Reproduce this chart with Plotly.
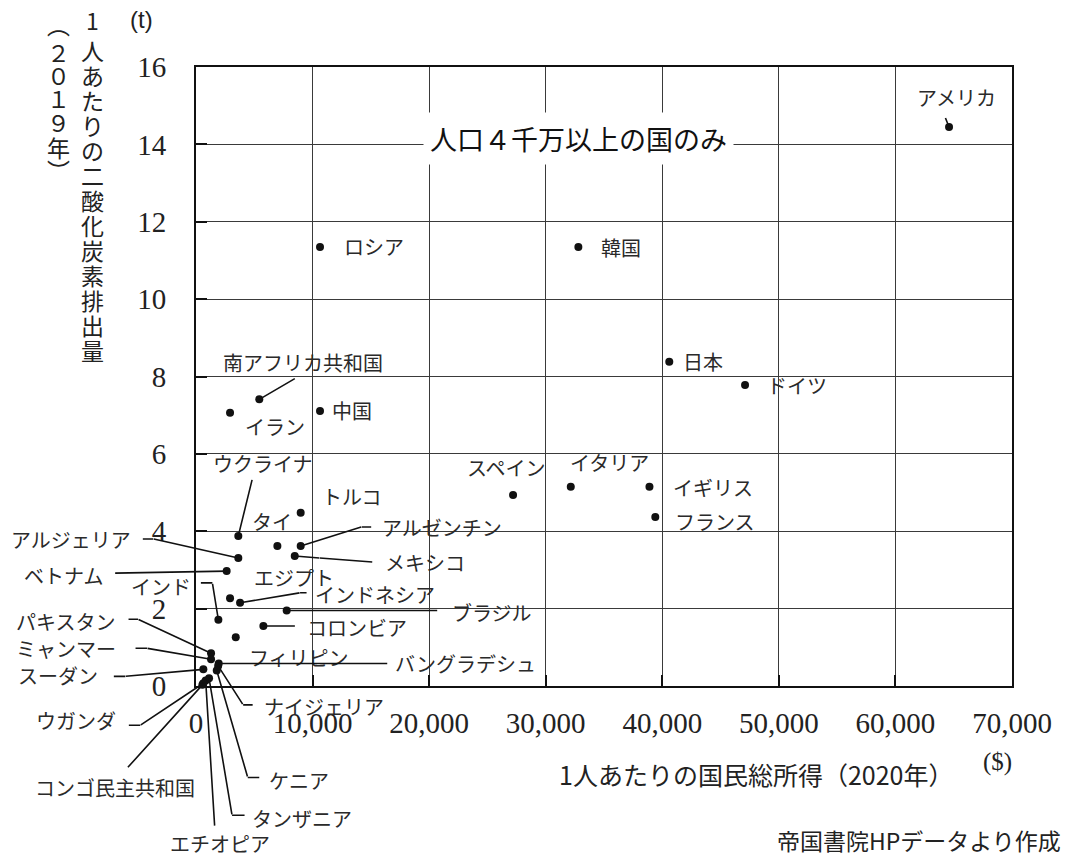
import plotly.graph_objects as go

# ---------------- data ----------------
countries = ["アメリカ", "ロシア", "韓国", "日本", "ドイツ", "南アフリカ共和国", "イラン", "中国",
             "スペイン", "イタリア", "イギリス", "フランス", "トルコ", "ウクライナ", "タイ",
             "アルゼンチン", "メキシコ", "アルジェリア", "ベトナム", "エジプト", "インドネシア",
             "ブラジル", "インド", "コロンビア", "フィリピン", "パキスタン", "ミャンマー", "スーダン",
             "バングラデシュ", "ナイジェリア", "ケニア", "タンザニア", "エチオピア",
             "コンゴ民主共和国", "ウガンダ"]
gni_2020 = [64600, 10640, 32800, 40600, 47100, 5430, 2920, 10640,
            27200, 32150, 38900, 39400, 8980, 3630, 6980,
            8980, 8470, 3630, 2630, 2920, 3780,
            7780, 1920, 5780, 3410, 1290, 1290, 630,
            1950, 1900, 1780, 1120, 830,
            550, 630]
co2_2019 = [14.45, 11.35, 11.35, 8.38, 7.78, 7.41, 7.06, 7.11,
            4.94, 5.15, 5.15, 4.37, 4.48, 3.88, 3.62,
            3.62, 3.36, 3.31, 2.97, 2.27, 2.15,
            1.95, 1.71, 1.55, 1.26, 0.845, 0.69, 0.43,
            0.58, 0.52, 0.40, 0.20, 0.14,
            0.03, 0.07]
x_ticks = [0, 10000, 20000, 30000, 40000, 50000, 60000, 70000]
y_ticks = [0, 2, 4, 6, 8, 10, 12, 14, 16]

# ---------------- layout of labels (pixel offsets from each dot) ----------------
# (dx, dy, xanchor) : dy positive = downwards on screen
label_pos = {
    "アメリカ": (7, -29, "center"), "ロシア": (22, 0, "left"), "韓国": (21, 1, "left"),
    "日本": (12, 0, "left"), "ドイツ": (20, 0, "left"), "南アフリカ共和国": (44, -37, "center"),
    "イラン": (13, 14, "left"), "中国": (10, 0, "left"), "スペイン": (-7, -27, "center"),
    "イタリア": (39, -24, "center"), "イギリス": (22, 1, "left"), "フランス": (18, 5, "left"),
    "トルコ": (19, -16, "left"), "ウクライナ": (25, -72, "center"), "タイ": (-5, -24, "center"),
    "アルゼンチン": (79, -18, "left"), "メキシコ": (88, 6, "left"), "アルジェリア": (-105, -18, "right"),
    "ベトナム": (-122, 4, "right"), "エジプト": (22, -21, "left"), "インドネシア": (73, -8, "left"),
    "ブラジル": (163, 2, "left"), "インド": (-25, -33, "right"), "コロンビア": (42, 1, "left"),
    "フィリピン": (11, 20, "left"), "パキスタン": (-94, -32, "right"), "ミャンマー": (-93, -11, "right"),
    "スーダン": (-103, 6, "right"), "バングラデシュ": (174, 0, "left"), "ナイジェリア": (44, 41, "left"),
    "ケニア": (50, 110, "left"), "タンザニア": (41, 140, "left"), "エチオピア": (14, 163, "center"),
    "コンゴ民主共和国": (-87, 103, "center"), "ウガンダ": (-85, 37, "right"),
}
# leader line vertices (pixel offsets from the dot), the line starts at the dot
leaders = {
    "アメリカ": [(-4, -10)], "南アフリカ共和国": [(36, -21)], "ウクライナ": [(14, -57)],
    "アルゼンチン": [(61, -19), (71, -19)], "メキシコ": [(25, 2), (78, 6)],
    "アルジェリア": [(-85, -19), (-96, -19)], "ベトナム": [(-112, 2)],
    "インドネシア": [(60, -10), (67, -10)], "ブラジル": [(151, 0)],
    "インド": [(-6, -37), (-18, -37)], "コロンビア": [(32, 0)],
    "パキスタン": [(-73, -34), (-83, -34)], "ミャンマー": [(-64, -11), (-76, -11)],
    "スーダン": [(-78, 7), (-90, 7)], "バングラデシュ": [(169, 0)],
    "ナイジェリア": [(25, 39), (35, 39)], "ケニア": [(31, 107), (43, 107)],
    "タンザニア": [(23, 137), (36, 137)], "エチオピア": [(9, 146)],
    "コンゴ民主共和国": [(-75, 83)], "ウガンダ": [(-63, 42), (-75, 42)],
}

W, H = 1067, 858
ML, MR, MT, MB = 196, 55, 67, 172
PW, PH = W - ML - MR, H - MT - MB


def px2paper(px, py):
    return (px - ML) / PW, (H - MB - py) / PH


JP = "Noto Sans CJK JP"
SERIF = "Liberation Serif"

fig = go.Figure()
fig.add_trace(go.Scatter(x=gni_2020, y=co2_2019, mode="markers", text=countries,
                         marker=dict(size=8, color="#111111"), cliponaxis=False,
                         hovertemplate="%{text}<br>%{x:,}$<br>%{y}t<extra></extra>"))

annotations = []
for name, gx, gy in zip(countries, gni_2020, co2_2019):
    dx, dy, anc = label_pos[name]
    annotations.append(dict(x=gx, y=gy, xref="x", yref="y", text=name, showarrow=False,
                            xshift=dx, yshift=-dy, xanchor=anc, yanchor="middle",
                            font=dict(family=JP, size=20, color="#2a2a2a")))
    pts = [(0, 0)] + leaders.get(name, [])
    for (ax0, ay0), (ax1, ay1) in zip(pts[:-1], pts[1:]):
        annotations.append(dict(x=gx, y=gy, xref="x", yref="y", text=" ", showarrow=True,
                                xshift=ax0, yshift=-ay0, ax=ax1 - ax0, ay=ay1 - ay0,
                                arrowhead=0, arrowwidth=1.6, arrowcolor="#111111",
                                standoff=0, startstandoff=0, borderpad=0,
                                font=dict(size=1)))

# title box
tx, ty = px2paper(578, 112)
annotations.append(dict(x=tx, y=ty, xref="paper", yref="paper", text="人口４千万以上の国のみ",
                        showarrow=False, bgcolor="white", borderpad=6,
                        font=dict(family=JP, size=27, color="#111111")))

# vertical y-axis title
col1 = ["1", "人", "あ", "た", "り", "の", "二", "酸", "化", "炭", "素", "排", "出", "量"]
for i, ch in enumerate(col1):
    cy = 20 if i == 0 else 50 + 25 * (i - 1)
    px_, py_ = px2paper(92, cy)
    annotations.append(dict(x=px_, y=py_, xref="paper", yref="paper", text=ch, showarrow=False,
                            xanchor="center", yanchor="middle",
                            font=dict(family=JP, size=23, color="#222222")))
col2 = [("︵", 24), ("２", 52), ("０", 75), ("１", 98), ("９", 122), ("年", 147), ("︶", 170)]
for ch, cy in col2:
    px_, py_ = px2paper(58, cy)
    annotations.append(dict(x=px_, y=py_, xref="paper", yref="paper", text=ch, showarrow=False,
                            xanchor="center", yanchor="middle",
                            font=dict(family=JP, size=23, color="#222222")))

# unit labels, x title, source
for txt, (px_, py_), fam, size, anc in [
    ("(t)", (141, 19), "Liberation Sans", 24, "center"),
    ("($)", (997, 762), SERIF, 25, "center"),
    ("1人あたりの国民総所得（2020年）", (756, 774), JP, 25, "center"),
    ("帝国書院HPデータより作成", (1063, 840), JP, 23, "right"),
]:
    ax_, ay_ = px2paper(px_, py_)
    annotations.append(dict(x=ax_, y=ay_, xref="paper", yref="paper", text=txt, showarrow=False,
                            xanchor=anc, yanchor="middle",
                            font=dict(family=fam, size=size, color="#222222")))

axis_common = dict(showgrid=True, gridcolor="#3a3a3a", gridwidth=1, zeroline=False,
                   showline=True, linecolor="#111111", linewidth=2, mirror=True,
                   ticks="inside", ticklen=11, tickwidth=2, tickcolor="#111111",
                   tickfont=dict(family=SERIF, size=29, color="#222222"))

fig.update_layout(
    width=W, height=H,
    margin=dict(l=ML, r=MR, t=MT, b=MB),
    paper_bgcolor="white", plot_bgcolor="white",
    showlegend=False,
    xaxis=dict(range=[0, 70000], tickvals=x_ticks, tickformat=",", ticklabelstandoff=10,
               **axis_common),
    yaxis=dict(range=[0, 16], tickvals=y_ticks, ticklabelstandoff=22, **axis_common),
    annotations=annotations,
)

fig.write_html("out.html", config={"displayModeBar": False},
               post_script="document.body.style.margin='0px';document.body.style.padding='0px';")
